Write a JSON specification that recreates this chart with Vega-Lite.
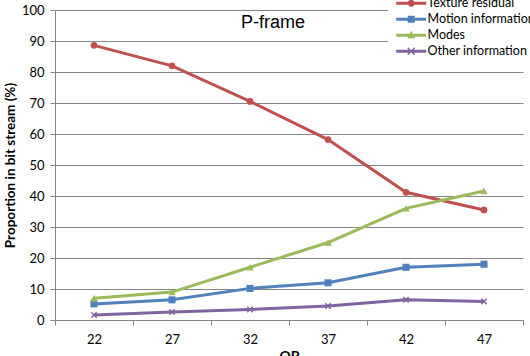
{
  "$schema": "https://vega.github.io/schema/vega-lite/v6.json",
  "width": 468,
  "height": 310,
  "autosize": "none",
  "padding": {"left": 55, "top": 10, "right": 7, "bottom": 36},
  "background": "white",
  "title": {"text": "P-frame", "font": "Liberation Sans", "fontSize": 18, "fontWeight": "normal", "color": "#000000", "anchor": "middle", "dx": -16, "offset": -56, "baseline": "bottom"},
  "data": {"values": [
    {"QP": "22", "series": "Texture residual", "value": 88.6},
    {"QP": "27", "series": "Texture residual", "value": 82.0},
    {"QP": "32", "series": "Texture residual", "value": 70.5},
    {"QP": "37", "series": "Texture residual", "value": 58.2},
    {"QP": "42", "series": "Texture residual", "value": 41.2},
    {"QP": "47", "series": "Texture residual", "value": 35.5},
    {"QP": "22", "series": "Motion information", "value": 5.2},
    {"QP": "27", "series": "Motion information", "value": 6.5},
    {"QP": "32", "series": "Motion information", "value": 10.2},
    {"QP": "37", "series": "Motion information", "value": 12.0},
    {"QP": "42", "series": "Motion information", "value": 17.0},
    {"QP": "47", "series": "Motion information", "value": 18.0},
    {"QP": "22", "series": "Modes", "value": 7.0},
    {"QP": "27", "series": "Modes", "value": 9.0},
    {"QP": "32", "series": "Modes", "value": 17.0},
    {"QP": "37", "series": "Modes", "value": 25.0},
    {"QP": "42", "series": "Modes", "value": 36.0},
    {"QP": "47", "series": "Modes", "value": 41.6},
    {"QP": "22", "series": "Other information", "value": 1.6},
    {"QP": "27", "series": "Other information", "value": 2.6},
    {"QP": "32", "series": "Other information", "value": 3.4},
    {"QP": "37", "series": "Other information", "value": 4.5},
    {"QP": "42", "series": "Other information", "value": 6.5},
    {"QP": "47", "series": "Other information", "value": 6.0}
  ]},
  "encoding": {
    "x": {"field": "QP", "type": "ordinal", "sort": null,
      "scale": {"type": "band", "paddingInner": 0, "paddingOuter": 0},
      "axis": {"title": "QP", "labelAngle": 0, "tickBand": "extent", "labelFont": "Lato", "labelFontSize": 13, "labelColor": "#000000", "labelPadding": 8, "titleFont": "Lato", "titleFontSize": 14, "titleFontWeight": "bold", "titleColor": "#000000", "titlePadding": 3, "domainColor": "#868686", "tickColor": "#868686", "tickSize": 5, "grid": false}},
    "y": {"field": "value", "type": "quantitative",
      "scale": {"domain": [0, 100], "nice": false},
      "axis": {"title": "Proportion in bit stream (%)", "values": [0,10,20,30,40,50,60,70,80,90,100], "labelFont": "Lato", "labelFontSize": 13, "labelColor": "#000000", "labelPadding": 6, "titleFont": "Lato", "titleFontSize": 13.5, "titleFontWeight": "bold", "titleColor": "#000000", "titlePadding": 4, "domainColor": "#868686", "tickColor": "#868686", "tickSize": 5, "gridColor": "#868686", "gridWidth": 1}},
    "color": {"field": "series", "type": "nominal", "sort": ["Texture residual", "Motion information", "Modes", "Other information"],
      "scale": {"domain": ["Texture residual", "Motion information", "Modes", "Other information"], "range": ["#C0504D", "#4F81BD", "#9BBB59", "#8064A2"]},
      "legend": {"title": null, "orient": "none", "legendX": 333, "legendY": -16, "fillColor": "white", "padding": 3, "labelFont": "Lato", "labelFontSize": 12.5, "labelColor": "#000000", "symbolSize": 100, "symbolOffset": 14, "labelOffset": 10, "rowPadding": 3, "symbolStrokeWidth": 0,
        "symbolType": "M-3,-0.3H3V0.3H-3Z M0.7,0A0.7,0.7,0,1,1,-0.7,0A0.7,0.7,0,1,1,0.7,0Z",
        "encode": {"symbols": {"update": {
          "fill": {"signal": "scale('color', datum.value)"},
          "stroke": {"value": "transparent"},
          "opacity": {"value": 1},
          "shape": {"signal": "datum.value === 'Texture residual' ? 'M-3,-0.3H3V0.3H-3Z M0.7,0A0.7,0.7,0,1,1,-0.7,0A0.7,0.7,0,1,1,0.7,0Z' : datum.value === 'Motion information' ? 'M-3,-0.3H3V0.3H-3Z M-0.7,-0.7H0.7V0.7H-0.7Z' : datum.value === 'Modes' ? 'M-3,-0.3H3V0.3H-3Z M0,-0.9L0.8,0.6H-0.8Z' : 'M-3,-0.3H3V0.3H-3Z M-0.8,-0.6L-0.6,-0.8L0.8,0.6L0.6,0.8Z M-0.8,0.6L0.6,-0.8L0.8,-0.6L-0.6,0.8Z'"}
        }}}}
    }
  },
  "layer": [
    {"mark": {"type": "line", "strokeWidth": 3}},
    {"transform": [{"filter": "datum.series === 'Texture residual'"}],
      "mark": {"type": "point", "shape": "circle", "filled": true, "opacity": 1, "size": 45}},
    {"transform": [{"filter": "datum.series === 'Motion information'"}],
      "mark": {"type": "point", "shape": "square", "filled": true, "opacity": 1, "size": 50}},
    {"transform": [{"filter": "datum.series === 'Modes'"}],
      "mark": {"type": "point", "shape": "triangle-up", "filled": true, "opacity": 1, "size": 55}},
    {"transform": [{"filter": "datum.series === 'Other information'"}],
      "mark": {"type": "point", "shape": "M-1,-1L1,1M-1,1L1,-1", "filled": false, "opacity": 1, "size": 30, "strokeWidth": 1.5}}
  ],
  "config": {"view": {"stroke": null}, "axis": {"labelFontWeight": "normal"}}
}
